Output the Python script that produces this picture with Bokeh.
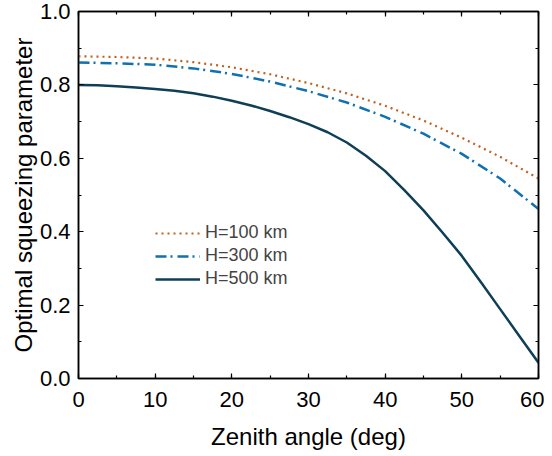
from bokeh.plotting import figure
from bokeh.models import (LinearAxis, SingleIntervalTicker, Range1d, Legend, LegendItem,
                          CustomJSTickFormatter, NumeralTickFormatter)
from bokeh.embed import file_html
from bokeh.resources import INLINE

# Data
zenith = [0, 5, 10, 15, 20, 25, 30, 35, 40, 45, 50, 55, 60]
h100 = [0.878, 0.876, 0.872, 0.862, 0.848, 0.829, 0.805, 0.777, 0.743, 0.703, 0.656, 0.604, 0.545]
h300 = [0.861, 0.859, 0.855, 0.845, 0.830, 0.809, 0.783, 0.752, 0.713, 0.667, 0.612, 0.545, 0.462]
zenith_fine = [0, 2.5, 5, 7.5, 10, 12.5, 15, 17.5, 20, 22.5, 25, 27.5, 30,
               32.5, 35, 37.5, 40, 42.5, 45, 47.5, 50, 52.5, 55, 57.5, 60]
h500 = [0.800, 0.799, 0.796, 0.793, 0.789, 0.784, 0.777, 0.768, 0.757, 0.744, 0.729, 0.712, 0.693,
        0.671, 0.643, 0.607, 0.565, 0.513, 0.458, 0.397, 0.334, 0.262, 0.189, 0.116, 0.043]
labels = ["H=100 km", "H=300 km", "H=500 km"]

FONT = "Liberation Sans"

p = figure(width=544, height=452, output_backend="svg", toolbar_location=None,
           x_range=Range1d(0, 60), y_range=Range1d(0, 1.0),
           x_axis_type=None, y_axis_type=None,
           min_border_left=78, min_border_right=6, min_border_top=11, min_border_bottom=74)
p.grid.visible = False
p.outline_line_color = "black"
p.outline_line_width = 1.5
p.background_fill_color = "white"
p.border_fill_color = "white"

def style(ax, labels_on=True):
    ax.major_tick_in = 5
    ax.major_tick_out = 0
    ax.minor_tick_in = 3
    ax.minor_tick_out = 0
    ax.major_tick_line_width = 1.2
    ax.minor_tick_line_width = 1.2
    ax.axis_line_color = "black"
    ax.axis_line_width = 1.5
    ax.major_label_text_font = FONT
    ax.major_label_text_font_size = "22px"
    ax.major_label_text_color = "black"
    ax.axis_label_text_font = FONT
    ax.axis_label_text_font_size = "24px"
    ax.axis_label_text_font_style = "normal"
    ax.axis_label_text_color = "black"
    if not labels_on:
        ax.formatter = CustomJSTickFormatter(code="return ''")
        ax.major_label_standoff = 0

xt = lambda: SingleIntervalTicker(interval=10, num_minor_ticks=2)
yt = lambda: SingleIntervalTicker(interval=0.2, num_minor_ticks=2)

xb = LinearAxis(ticker=xt(), axis_label="Zenith angle (deg)")
style(xb)
xb.major_label_standoff = 13
xb.axis_label_standoff = 13
p.add_layout(xb, "below")

yl = LinearAxis(ticker=yt(), axis_label="Optimal squeezing parameter",
                formatter=NumeralTickFormatter(format="0.0"))
style(yl)
yl.major_label_standoff = 8
yl.axis_label_standoff = 0
p.add_layout(yl, "left")

xa = LinearAxis(ticker=xt())
style(xa, labels_on=False)
p.add_layout(xa, "above")

yr = LinearAxis(ticker=yt())
style(yr, labels_on=False)
p.add_layout(yr, "right")

r1 = p.line(zenith, h100, line_color="#C0601F", line_width=2.2, line_dash="2 4")
r2 = p.line(zenith, h300, line_color="#1170B0", line_width=2.5, line_dash="11 4 2 5")
r3 = p.line(zenith_fine, h500, line_color="#0E3F57", line_width=2.5)

legend = Legend(items=[LegendItem(label=labels[0], renderers=[r1]),
                       LegendItem(label=labels[1], renderers=[r2]),
                       LegendItem(label=labels[2], renderers=[r3])],
                location=(77, 89), orientation="vertical",
                label_text_font=FONT, label_text_font_size="18px",
                glyph_width=45, glyph_height=20, label_height=20,
                spacing=2, padding=0, margin=0, label_standoff=5,
                border_line_color=None, background_fill_alpha=0)
p.add_layout(legend, "center")

open("out.html", "w").write(file_html(p, INLINE))
